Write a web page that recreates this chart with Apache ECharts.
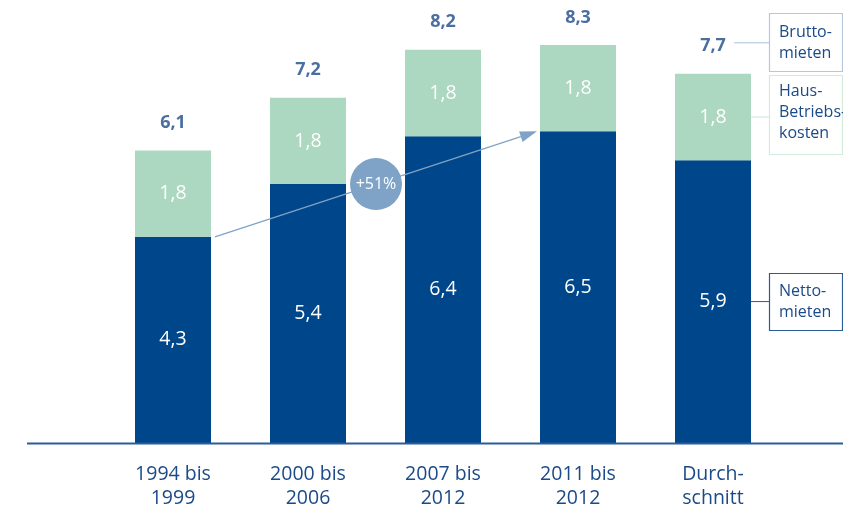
<!DOCTYPE html>
<html>
<head>
<meta charset="utf-8">
<script src="https://cdn.jsdelivr.net/npm/echarts@6.0.0/dist/echarts.min.js"></script>
<style>
  html, body { margin: 0; padding: 0; background: #fff; }
  #chart { width: 843px; height: 513px; }
</style>
</head>
<body>
<div id="chart"></div>
<script>
// data
const categories = ['1994 bis\n1999', '2000 bis\n2006', '2007 bis\n2012', '2011 bis\n2012', 'Durch-\nschnitt'];
const nettomieten = [4.3, 5.4, 6.4, 6.5, 5.9];
const betriebskosten = [1.8, 1.8, 1.8, 1.8, 1.8];
const bruttomieten = [6.1, 7.2, 8.2, 8.3, 7.7];
const growthLabel = '+51%';
const legendNames = ['Brutto-\nmieten', 'Haus-\nBetriebs-\nkosten', 'Netto-\nmieten'];

const FONT = '"Open Sans", "Noto Sans", sans-serif';
const darkBlue = '#00468a';
const green = '#acd7c0';
const textBlue = '#1b4a88';
const arrowColor = '#7fa3c6';
const BAR_W = 76;

const fmt = v => v.toFixed(1).replace('.', ',');

const chart = echarts.init(document.getElementById('chart'));

chart.setOption({
    animation: false,
    grid: { left: 105.5, right: 62.5, top: 11.5, bottom: 70 },
    xAxis: {
        type: 'category',
        data: categories,
        axisLine: { show: false },
        axisTick: { show: false },
        axisLabel: {
            color: textBlue,
            fontFamily: FONT,
            fontSize: 19.5,
            lineHeight: 24,
            margin: 19
        }
    },
    yAxis: {
        type: 'value',
        min: 0,
        max: 9,
        show: false,
        splitLine: { show: false }
    },
    series: [
        {
            name: 'Nettomieten',
            type: 'bar',
            stack: 'miete',
            barWidth: BAR_W,
            data: nettomieten,
            itemStyle: { color: darkBlue },
            label: {
                show: true,
                position: 'inside',
                color: '#fff',
                fontFamily: FONT,
                fontSize: 19.5,
                formatter: p => fmt(p.value)
            }
        },
        {
            name: 'Betriebskosten',
            type: 'bar',
            stack: 'miete',
            barWidth: BAR_W,
            data: betriebskosten,
            itemStyle: { color: green },
            label: {
                show: true,
                position: 'inside',
                color: '#fff',
                fontFamily: FONT,
                fontSize: 19.5,
                formatter: p => fmt(p.value)
            }
        },
        {
            name: 'Bruttomieten',
            type: 'scatter',
            data: bruttomieten,
            symbolSize: 1,
            itemStyle: { color: 'rgba(0,0,0,0)' },
            label: {
                show: true,
                position: 'top',
                distance: 18,
                color: textBlue,
                fontFamily: FONT,
                fontWeight: 'bold',
                fontSize: 18,
                formatter: p => fmt(p.value)
            }
        }
    ]
});

// annotations placed from the chart's own scales
const px = (i, v) => chart.convertToPixel({ seriesIndex: 0 }, [i, v]);
const base = px(0, 0)[1];
const last = categories.length - 1;

// arrow from first to fourth bar
const s0 = px(0, nettomieten[0]);
const s3 = px(3, nettomieten[3]);
const S = [s0[0] + BAR_W / 2 + 4, s0[1]];
const T = [s3[0] - BAR_W / 2 - 3, s3[1]];
const dx = T[0] - S[0], dy = T[1] - S[1];
const len = Math.sqrt(dx * dx + dy * dy);
const u = [dx / len, dy / len];
const n = [-u[1], u[0]];
const headL = 17, headW = 5.5;
const hb = [T[0] - headL * u[0], T[1] - headL * u[1]];
const mid = [(S[0] + T[0]) / 2, (S[1] + T[1]) / 2];

// legend connectors
const avgX = px(last, 0)[0];
const avgRight = avgX + BAR_W / 2;
const yNetto = (base + px(last, nettomieten[last])[1]) / 2;
const yHaus = (px(last, nettomieten[last])[1] + px(last, bruttomieten[last])[1]) / 2;
const yBrutto = px(last, bruttomieten[last])[1] - 31;

const boxX = 769;
const LH = 21;
const boxes = [
    { y: 13, h: 58, textY: 32, stroke: '#b4c7dd', line: [avgX + 21, yBrutto], lineColor: '#a9bfd9', text: legendNames[0] },
    { y: 75, h: 79, textY: 91, stroke: '#d3eadd', line: [avgRight, yHaus], lineColor: '#cbe6d7', text: legendNames[1] },
    { y: 273, h: 57, textY: 291, stroke: '#2a5c9a', line: [avgRight, yNetto], lineColor: '#2a5c9a', text: legendNames[2] }
];

const graphics = [
    {
        type: 'line',
        shape: { x1: 27, y1: base + 0.5, x2: 843, y2: base + 0.5 },
        style: { stroke: '#2b5c9b', lineWidth: 2 },
        z: 10
    },
    {
        type: 'line',
        shape: { x1: S[0], y1: S[1], x2: hb[0], y2: hb[1] },
        style: { stroke: arrowColor, lineWidth: 1.3 },
        z: 10
    },
    {
        type: 'polygon',
        shape: {
            points: [
                T,
                [hb[0] + headW * n[0], hb[1] + headW * n[1]],
                [hb[0] - headW * n[0], hb[1] - headW * n[1]]
            ]
        },
        style: { fill: arrowColor },
        z: 10
    },
    {
        type: 'circle',
        shape: { cx: mid[0], cy: mid[1], r: 26 },
        style: { fill: arrowColor },
        z: 11
    },
    {
        type: 'text',
        x: mid[0],
        y: mid[1],
        style: {
            text: growthLabel,
            fill: '#fff',
            font: '16px ' + FONT,
            align: 'center',
            verticalAlign: 'middle'
        },
        z: 12
    }
];

boxes.forEach(b => {
    graphics.push({
        type: 'line',
        shape: { x1: b.line[0], y1: b.line[1], x2: boxX, y2: b.line[1] },
        style: { stroke: b.lineColor, lineWidth: 1 },
        z: 10
    });
    graphics.push({
        type: 'rect',
        shape: { x: boxX + 0.5, y: b.y + 0.5, width: 73, height: b.h },
        style: { fill: '#fff', stroke: b.stroke, lineWidth: 1.2 },
        z: 10
    });
    graphics.push({
        type: 'text',
        x: boxX + 10,
        y: b.textY - LH / 2,
        style: {
            text: b.text,
            fill: textBlue,
            font: '16px ' + FONT,
            lineHeight: LH,
            verticalAlign: 'top'
        },
        z: 11
    });
});

chart.setOption({ graphic: graphics });
</script>
</body>
</html>
